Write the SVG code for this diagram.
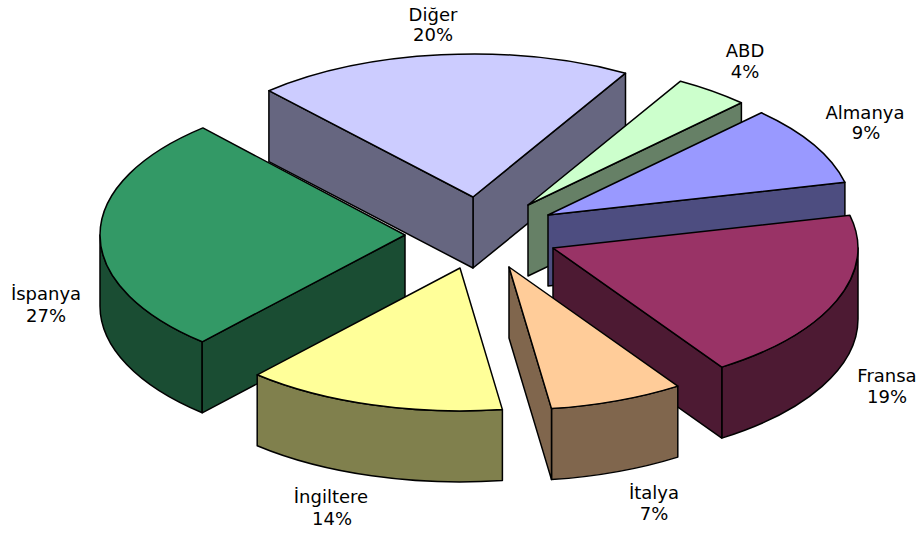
<svg xmlns="http://www.w3.org/2000/svg" width="922" height="533" viewBox="0 0 922 533">
<style>
  .s { stroke: #000; stroke-width: 1.5; stroke-linejoin: round; }
  .lbl { font-family: "DejaVu Sans", Verdana, sans-serif; font-size: 18px; fill: #000; text-anchor: middle; }
</style>
<rect width="922" height="533" fill="#fff"/>
<g id="slice-diger">
  <path class="s" fill="#666680" d="M473,197 L625.5,73.2 L625.5,144.2 L473,268 Z"/>
  <path class="s" fill="#666680" d="M473,197 L268.9,90.7 L268.9,161.7 L473,268 Z"/>
  <path class="s" fill="#CCCCFF" d="M473,197 L625.5,73.2 A305,143 0 0 0 268.9,90.7 Z"/>
</g>
<g id="slice-abd">
  <path class="s" fill="#668066" d="M528,205 L741.4,102.8 L741.4,173.8 L528,276 Z"/>
  <path class="s" fill="#CCFFCC" d="M528,205 L741.4,102.8 A305,143 0 0 0 680.5,81.2 Z"/>
</g>
<g id="slice-almanya">
  <path class="s" fill="#4D4D80" d="M548,215 L844.9,182.3 L844.9,253.3 L548,286 Z"/>
  <path class="s" fill="#9999FF" d="M548,215 L844.9,182.3 A305,143 0 0 0 761.4,112.8 Z"/>
</g>
<g id="slice-fransa">
  <path class="s" fill="#4D1A33" d="M721.8,367.1 A305,143 0 0 0 858,248 L858,319 A305,143 0 0 1 721.8,438.1 Z"/>
  <path class="s" fill="#4D1A33" d="M553,248 L721.8,367.1 L721.8,438.1 L553,319 Z"/>
  <path class="s" fill="#993366" d="M553,248 L721.8,367.1 A305,143 0 0 0 849.9,215.3 Z"/>
</g>
<g id="slice-ispanya">
  <path class="s" fill="#1A4D33" d="M100,235 A305,143 0 0 0 202.2,341.8 L202.2,412.8 A305,143 0 0 1 100,306 Z"/>
  <path class="s" fill="#1A4D33" d="M405,235 L202.2,341.8 L202.2,412.8 L405,306 Z"/>
  <path class="s" fill="#339966" d="M405,235 L202.9,127.9 A305,143 0 0 0 202.2,341.8 Z"/>
</g>
<g id="slice-ingiltere">
  <path class="s" fill="#80804D" d="M257.2,374.8 A305,143 0 0 0 502.4,409.6 L502.4,480.6 A305,143 0 0 1 257.2,445.8 Z"/>
  <path class="s" fill="#FFFF99" d="M460,268 L257.2,374.8 A305,143 0 0 0 502.4,409.6 Z"/>
</g>
<g id="slice-italya">
  <path class="s" fill="#80664D" d="M551.5,408.6 A305,143 0 0 0 677.8,386.1 L677.8,457.1 A305,143 0 0 1 551.5,479.6 Z"/>
  <path class="s" fill="#80664D" d="M509,267 L551.5,408.6 L551.5,479.6 L509,338 Z"/>
  <path class="s" fill="#FFCC99" d="M509,267 L551.5,408.6 A305,143 0 0 0 677.8,386.1 Z"/>
</g>
<g id="connectors"></g>
<g id="labels">
  <text class="lbl" x="433" y="21">Diğer</text>
  <text class="lbl" x="433" y="41">20%</text>
  <text class="lbl" x="745" y="57">ABD</text>
  <text class="lbl" x="745" y="78">4%</text>
  <text class="lbl" x="865" y="119">Almanya</text>
  <text class="lbl" x="866" y="139">9%</text>
  <text class="lbl" x="887" y="382">Fransa</text>
  <text class="lbl" x="887" y="403">19%</text>
  <text class="lbl" x="654" y="499">İtalya</text>
  <text class="lbl" x="654" y="520">7%</text>
  <text class="lbl" x="331" y="503">İngiltere</text>
  <text class="lbl" x="332" y="525">14%</text>
  <text class="lbl" x="46" y="300">İspanya</text>
  <text class="lbl" x="46" y="322">27%</text>
</g>
</svg>
